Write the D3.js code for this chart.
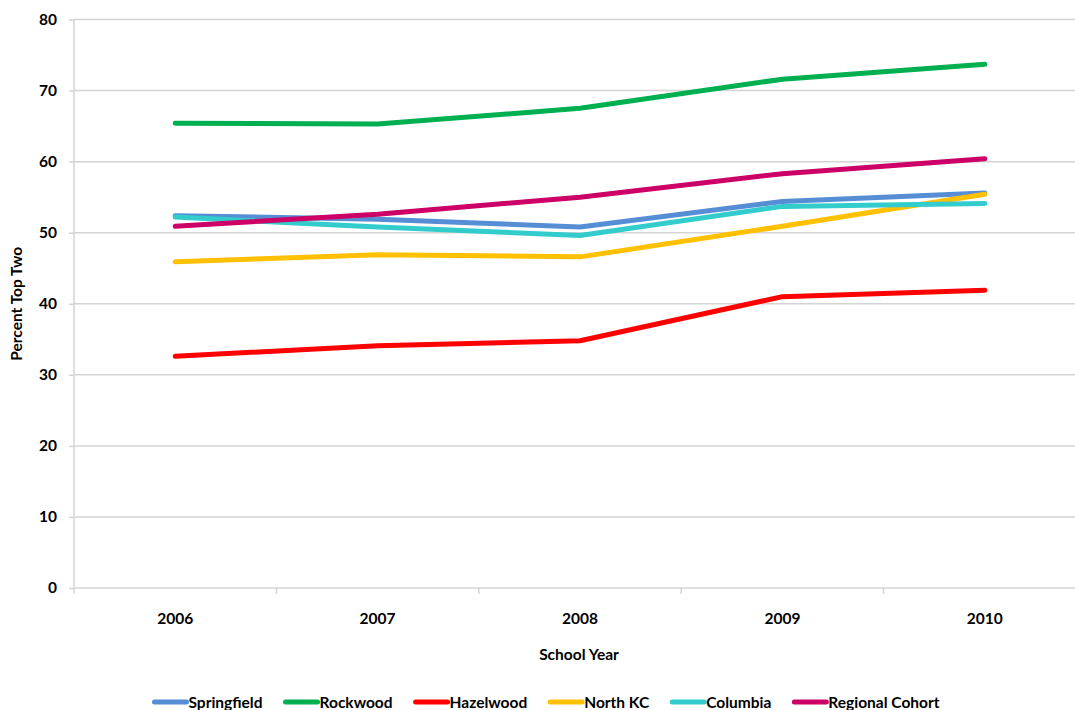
<!DOCTYPE html>
<html>
<head>
<meta charset="utf-8">
<script src="https://cdn.jsdelivr.net/npm/d3@7"></script>
<style>
  html, body { margin: 0; padding: 0; background: #fff; }
  svg { display: block; font-family: Lato, "Open Sans", sans-serif; font-weight: bold; }
</style>
</head>
<body>
<svg id="chart" width="1075" height="710"></svg>
<script>
const years = ["2006", "2007", "2008", "2009", "2010"];
const seriesNames = ["Springfield", "Rockwood", "Hazelwood", "North KC", "Columbia", "Regional Cohort"];
const seriesColors = ["#558ED5", "#00B050", "#FF0000", "#FFC000", "#33CCCC", "#CC0066"];
const springfield = [52.4, 51.9, 50.8, 54.4, 55.6];
const rockwood = [65.4, 65.3, 67.5, 71.6, 73.7];
const hazelwood = [32.6, 34.1, 34.8, 41.0, 41.9];
const northKC = [45.9, 46.9, 46.6, 50.9, 55.4];
const columbia = [52.2, 50.8, 49.6, 53.7, 54.1];
const regionalCohort = [50.9, 52.6, 55.0, 58.3, 60.4];
const yTicks = [0, 10, 20, 30, 40, 50, 60, 70, 80];

const seriesValues = [springfield, rockwood, hazelwood, northKC, columbia, regionalCohort];
const series = seriesNames.map((name, i) => ({ name, color: seriesColors[i], values: seriesValues[i] }));

const svg = d3.select("#chart");
const plot = { left: 74, right: 1086, top: 19.5, bottom: 588 };

const x = d3.scaleBand().domain(years).range([plot.left, plot.right]);
const y = d3.scaleLinear().domain([0, 80]).range([plot.bottom, plot.top]);
const gridColor = "#d4d4d4";

// horizontal gridlines
svg.append("g")
  .selectAll("line")
  .data(yTicks.filter(t => t > 0))
  .join("line")
  .attr("x1", plot.left).attr("x2", plot.right)
  .attr("y1", d => y(d)).attr("y2", d => y(d))
  .attr("stroke", gridColor).attr("stroke-width", 1.5);

// y axis
const yAxis = svg.append("g")
  .attr("transform", `translate(${plot.left},0)`)
  .call(d3.axisLeft(y).tickValues(yTicks).tickSize(5).tickPadding(12));
yAxis.select(".domain").attr("stroke", gridColor).attr("stroke-width", 1.5).attr("d", `M0,${plot.top}V${plot.bottom}`);
yAxis.selectAll(".tick line").attr("stroke", gridColor).attr("stroke-width", 1.5);
yAxis.selectAll(".tick text").attr("fill", "#000").style("font-size", "15.5px").style("font-weight", "bold").style("font-family", "Lato, sans-serif");

// x axis with tick marks at category boundaries
const xAxisG = svg.append("g").attr("transform", `translate(0,${plot.bottom})`);
xAxisG.append("line")
  .attr("x1", plot.left).attr("x2", plot.right)
  .attr("stroke", gridColor).attr("stroke-width", 1.5);
const boundaries = years.map(d => x(d)).concat([x(years[years.length - 1]) + x.bandwidth()]);
xAxisG.selectAll("line.tk")
  .data(boundaries)
  .join("line").attr("class", "tk")
  .attr("x1", d => d).attr("x2", d => d)
  .attr("y1", 0).attr("y2", 6)
  .attr("stroke", gridColor).attr("stroke-width", 1.5);
xAxisG.selectAll("text")
  .data(years)
  .join("text")
  .attr("x", d => x(d) + x.bandwidth() / 2)
  .attr("y", 36)
  .attr("text-anchor", "middle")
  .style("font-size", "15.5px")
  .text(d => d);

// axis titles
svg.append("text")
  .attr("x", (plot.left + plot.right) / 2 - 1)
  .attr("y", 660)
  .attr("text-anchor", "middle")
  .style("font-size", "15.5px")
  .text("School Year");
svg.append("text")
  .attr("transform", `translate(22,${(plot.top + plot.bottom) / 2}) rotate(-90)`)
  .attr("text-anchor", "middle")
  .style("font-size", "15.5px")
  .text("Percent Top Two");

// series lines
const line = d3.line()
  .x((d, i) => x(years[i]) + x.bandwidth() / 2)
  .y(d => y(d));
svg.append("g")
  .selectAll("path")
  .data(series)
  .join("path")
  .attr("d", d => line(d.values))
  .attr("fill", "none")
  .attr("stroke", d => d.color)
  .attr("stroke-width", 5)
  .attr("stroke-linecap", "round")
  .attr("stroke-linejoin", "round");

// legend
const legend = svg.append("g");
const swatch = 35, gap = 21;
let cursor = 0;
const items = series.map(s => {
  const g = legend.append("g");
  g.append("line")
    .attr("x1", 2).attr("x2", swatch - 1)
    .attr("y1", 0).attr("y2", 0)
    .attr("stroke", s.color).attr("stroke-width", 5).attr("stroke-linecap", "round");
  const t = g.append("text")
    .attr("x", swatch + 1).attr("y", 5.5)
    .style("font-size", "15.5px")
    .text(s.name);
  const w = swatch + 1 + t.node().getComputedTextLength();
  const item = { g, offset: cursor };
  cursor += w + gap;
  return item;
});
const total = cursor - gap;
const legendStart = 546 - total / 2;
items.forEach(it => it.g.attr("transform", `translate(${legendStart + it.offset},702)`));
</script>
</body>
</html>
